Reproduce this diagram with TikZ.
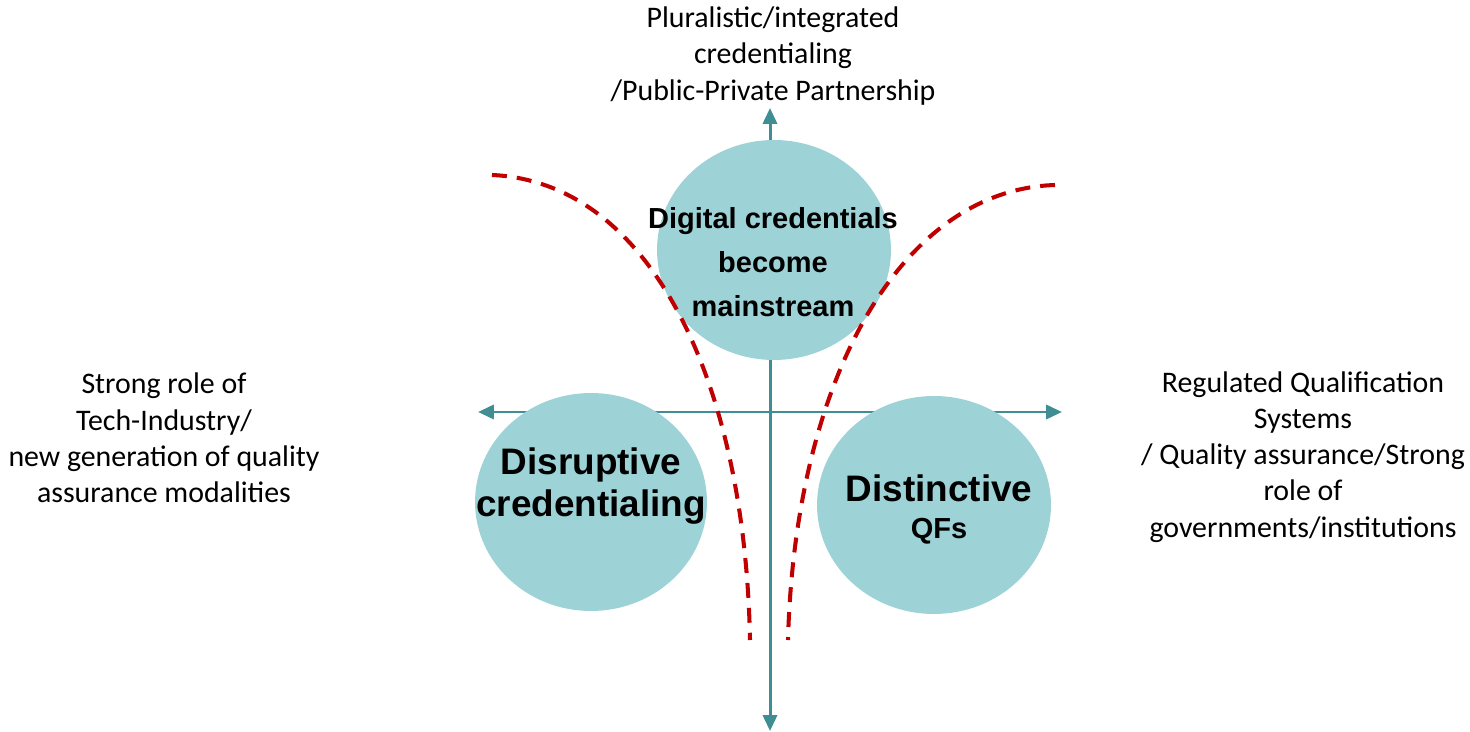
\documentclass[tikz,border=0pt]{standalone}
\usepackage{fontspec}
\setmainfont{Carlito}
\newfontfamily\boldsans{Liberation Sans}[UprightFont=* Bold]
\usetikzlibrary{arrows.meta,shapes.geometric}
\definecolor{bubble}{HTML}{9DD3D7}
\definecolor{axiscol}{HTML}{3F8E94}
\definecolor{bound}{HTML}{C00000}
\tikzset{
  axis/.style={draw=axiscol, line width=1.7pt, {Triangle[length=9pt,width=8pt]}-{Triangle[length=9pt,width=8pt]}},
  bubblenode/.style={ellipse, fill=bubble, draw=none, inner sep=0pt},
  boundary/.style={draw=bound, line width=2.3pt, dash pattern=on 8.5pt off 5.7pt},
  sidelabel/.style={align=center, font=\fontsize{17}{20.6}\selectfont, inner sep=0pt},
  bubbletext/.style={align=center, inner sep=0pt},
}
\begin{document}
\begin{tikzpicture}[x=0.02cm, y=-0.02cm]
\useasboundingbox (0,0) rectangle (1470,732);

% axes
\coordinate (vtop) at (770,108);
\coordinate (vbot) at (770,731);
\coordinate (hleft) at (478,412);
\coordinate (hright) at (1062,412);
\draw[axis] (vbot) -- (vtop);
\draw[axis] (hleft) -- (hright);

% bubbles
\node[bubblenode, minimum width=4.68cm, minimum height=4.4cm] (topb) at (774,250) {};
\node[bubblenode, minimum width=4.64cm, minimum height=4.36cm] (leftb) at (591,502) {};
\node[bubblenode, minimum width=4.68cm, minimum height=4.36cm] (rightb) at (934,505) {};

% dashed boundaries
\coordinate (l0) at (492,175);
\coordinate (l1) at (750,640);
\coordinate (r0) at (1055,185);
\coordinate (r1) at (788,640);
\draw[boundary] (l0) .. controls (650,182) and (745,380) .. (l1);
\draw[boundary] (r0) .. controls (900,190) and (795,380) .. (r1);

% bubble texts
\node[bubbletext, font=\boldsans\fontsize{16.5}{25}\selectfont] (toptext) at (773,262)
  {Digital credentials\\become\\mainstream};
\node[bubbletext, font=\boldsans\fontsize{21}{24.4}\selectfont] (lefttext) at (591,486)
  {Disruptive\\credentialing};
\node[bubbletext, anchor=base, font=\boldsans\fontsize{21}{24}\selectfont] (righttext) at (939,502)
  {Distinctive};
\node[bubbletext, anchor=base, font=\boldsans\fontsize{16.5}{20}\selectfont] (righttext2) at (939,539)
  {QFs};

% axis labels
\node[sidelabel] (toplabel) at (773,56)
  {Pluralistic/integrated\\credentialing\\/Public-Private Partnership};
\node[sidelabel] (leftlabel) at (164,438)
  {Strong role of\\Tech-Industry/\\new generation of quality\\assurance modalities};
\node[sidelabel] (rightlabel) at (1303,457)
  {Regulated Qualification\\Systems\\/ Quality assurance/Strong\\role of\\governments/institutions};
\end{tikzpicture}
\end{document}
